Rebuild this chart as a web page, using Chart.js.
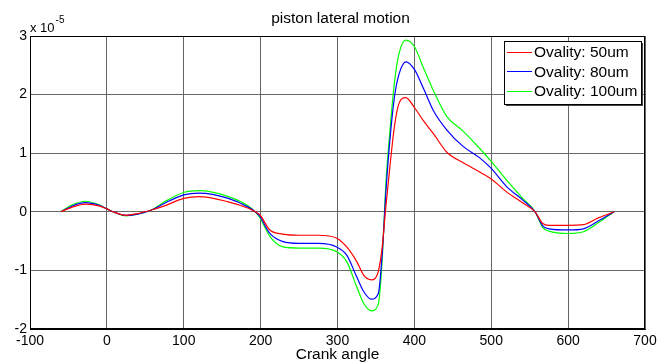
<!DOCTYPE html>
<html>
<head>
<meta charset="utf-8">
<script src="https://cdn.jsdelivr.net/npm/chart.js@4"></script>
<style>
  html, body { margin: 0; padding: 0; background: #fff; }
  #wrap { width: 667px; height: 362px; position: relative; }
</style>
</head>
<body>
<div id="wrap"><canvas id="motionChart"></canvas></div>
<script>
/* ── data (lateral motion in units of 1e-5) ── */
const crank = [-60,-45,-28,-10,0,8,25,40,58,75,100,120,158,184,193,199,212,229,250,275,299,312,325,334,344,353,358,363,368,374,380,389,400,412,425,442,463,485,500,520,541,557,567,575,600,620,640,660];
const oval50 = [0,0.08,0.13,0.10,0.05,0,-0.06,-0.03,0.03,0.10,0.23,0.26,0.17,0.06,0,-0.05,-0.31,-0.38,-0.40,-0.40,-0.45,-0.60,-0.85,-1.08,-1.16,-1.02,-0.62,0.10,0.75,1.45,1.85,1.95,1.78,1.55,1.33,1.02,0.84,0.68,0.56,0.34,0.15,0,-0.20,-0.23,-0.23,-0.22,-0.10,0];
const oval80 = [0,0.10,0.155,0.11,0.05,0,-0.06,-0.04,0.03,0.145,0.29,0.32,0.23,0.08,0,-0.08,-0.37,-0.51,-0.54,-0.54,-0.60,-0.74,-1.11,-1.36,-1.49,-1.40,-0.75,0.35,1.20,1.95,2.35,2.56,2.43,2.10,1.72,1.40,1.12,0.92,0.74,0.43,0.20,0,-0.24,-0.29,-0.31,-0.29,-0.15,0];
const oval100 = [0,0.12,0.18,0.12,0.05,0,-0.07,-0.04,0.03,0.17,0.33,0.36,0.26,0.10,0,-0.10,-0.42,-0.60,-0.62,-0.62,-0.68,-0.85,-1.28,-1.56,-1.69,-1.58,-0.85,0.50,1.35,2.20,2.70,2.93,2.82,2.45,2.06,1.63,1.38,1.08,0.86,0.54,0.23,0,-0.27,-0.33,-0.37,-0.34,-0.18,0];
const seriesLabels = ['Ovality: 50um', 'Ovality: 80um', 'Ovality: 100um'];
const seriesColors = ['#ff0000', '#0000ff', '#00ff00'];
const xTicks = [-100,0,100,200,300,400,500,600,700];
const yTicks = [-2,-1,0,1,2,3];

const FONT = 'Arial, "Liberation Sans", sans-serif';

function pts(vals) { return crank.map(function (c, i) { return { x: c, y: vals[i] }; }); }

// frame, title, exponent and legend box (MATLAB look)
const matlabDecor = {
  id: 'matlabDecor',
  afterDraw: function (chart) {
    const ctx = chart.ctx, a = chart.chartArea;
    ctx.save();
    ctx.strokeStyle = '#000'; ctx.lineWidth = 1;
    ctx.strokeRect(a.left + 0.5, a.top + 0.5, a.right - a.left - 1, a.bottom - a.top - 1);

    ctx.fillStyle = '#000';
    ctx.font = '15.5px ' + FONT;
    ctx.textAlign = 'center'; ctx.textBaseline = 'alphabetic';
    ctx.fillText('piston lateral motion', (a.left + a.right) / 2 + 3, 23);

    ctx.textAlign = 'left';
    ctx.font = '13px ' + FONT;
    ctx.fillText('x 10', a.left, a.top - 4);
    const w = ctx.measureText('x 10').width;
    ctx.font = '10px ' + FONT;
    ctx.fillText('-5', a.left + w + 1, a.top - 13);

    // legend
    const lx = a.right - 141, ly = a.top + 5, lw = 137, lh = 63;
    ctx.fillStyle = '#444';
    ctx.fillRect(lx + 2, ly + 2, lw, lh);
    ctx.fillStyle = '#fff';
    ctx.fillRect(lx, ly, lw, lh);
    ctx.strokeStyle = '#000';
    ctx.strokeRect(lx + 0.5, ly + 0.5, lw, lh);
    ctx.font = '15.5px ' + FONT;
    ctx.textBaseline = 'middle';
    seriesLabels.forEach(function (lab, i) {
      const y = ly + 11 + i * 19.4;
      ctx.strokeStyle = seriesColors[i];
      ctx.beginPath(); ctx.moveTo(lx + 3, Math.round(y) + 0.5); ctx.lineTo(lx + 28, Math.round(y) + 0.5); ctx.stroke();
      ctx.fillStyle = '#000';
      ctx.fillText(lab, lx + 30, y + 1);
    });
    ctx.restore();
  }
};

new Chart(document.getElementById('motionChart'), {
  type: 'line',
  data: {
    datasets: [oval50, oval80, oval100].map(function (v, i) {
      return {
        label: seriesLabels[i], data: pts(v),
        borderColor: seriesColors[i], borderWidth: 1.2,
        pointRadius: 0, fill: false, cubicInterpolationMode: 'monotone'
      };
    })
  },
  options: {
    responsive: true, maintainAspectRatio: false, animation: false,
    layout: { padding: { top: 36, right: 22, left: 0, bottom: 0 } },
    plugins: { legend: { display: false }, tooltip: { enabled: false } },
    scales: {
      x: {
        type: 'linear', min: -100, max: 700,
        afterBuildTicks: function (s) { s.ticks = xTicks.map(function (v) { return { value: v }; }); },
        afterFit: function (s) { s.height = 33; },
        grid: { color: '#666', lineWidth: 1, drawTicks: false },
        border: { color: '#000' },
        ticks: { color: '#000', padding: 4, maxRotation: 0, font: { size: 14, family: FONT } },
        title: { display: true, text: 'Crank angle', color: '#000', padding: 0, font: { size: 15.5, family: FONT, lineHeight: 1 } }
      },
      y: {
        type: 'linear', min: -2, max: 3,
        afterBuildTicks: function (s) { s.ticks = yTicks.map(function (v) { return { value: v }; }); },
        afterFit: function (s) { s.width = 30; },
        grid: { color: '#666', lineWidth: 1, drawTicks: false },
        border: { color: '#000' },
        ticks: { color: '#000', padding: 3, font: { size: 14, family: FONT } }
      }
    }
  },
  plugins: [matlabDecor]
});
</script>
</body>
</html>
